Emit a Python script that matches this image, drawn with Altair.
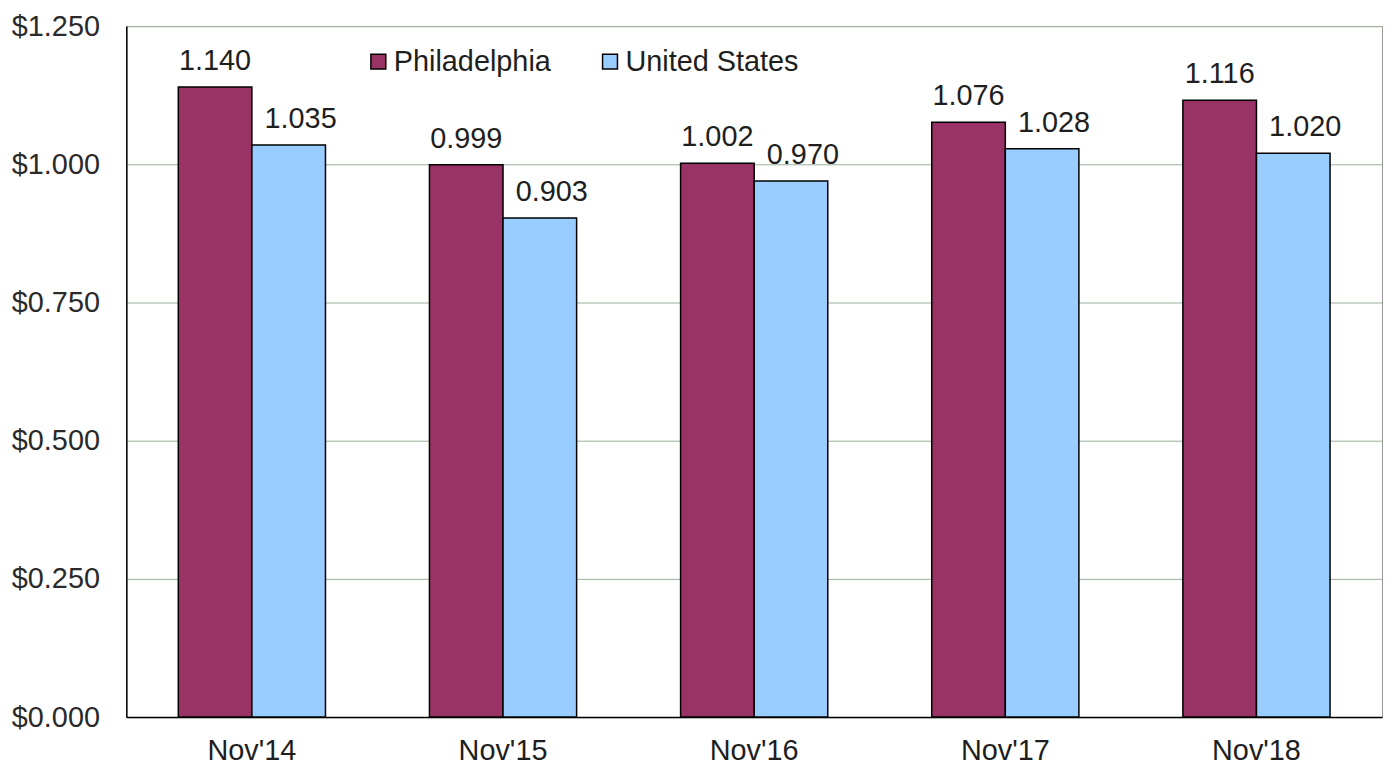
import altair as alt
import pandas as pd

categories = ["Nov'14", "Nov'15", "Nov'16", "Nov'17", "Nov'18"]
series = ["Philadelphia", "United States"]
philadelphia = [1.140, 0.999, 1.002, 1.076, 1.116]
united_states = [1.035, 0.903, 0.970, 1.028, 1.020]
y_ticks = [0, 0.25, 0.5, 0.75, 1.0, 1.25]

rows = []
for c, p, u in zip(categories, philadelphia, united_states):
    rows.append({"month": c, "area": series[0], "value": p, "label": f"{p:.3f}"})
    rows.append({"month": c, "area": series[1], "value": u, "label": f"{u:.3f}"})
df = pd.DataFrame(rows)

FONT = "Liberation Sans"
FS = 29
TXT = "#1e1e1e"

x = alt.X("month:N", sort=categories, title=None,
          scale=alt.Scale(paddingInner=0.414, paddingOuter=0.207),
          axis=alt.Axis(labelAngle=0, labelFontSize=FS, labelColor=TXT,
                        labelFont=FONT, ticks=False, labelPadding=20,
                        domainColor="#000000", domainWidth=1.5))
xoff = alt.XOffset("area:N", sort=series)
y = alt.Y("value:Q", title=None,
          scale=alt.Scale(domain=[0, 1.25], nice=False),
          axis=alt.Axis(values=y_ticks, format="$.3f", labelFontSize=FS,
                        labelColor="#2a2a2a", labelFont=FONT, ticks=False,
                        labelPadding=27, gridColor="#9aae9a", gridWidth=1,
                        domainColor="#000000", domainWidth=1.5))
color = alt.Color("area:N", sort=series,
                  scale=alt.Scale(domain=series, range=["#993366", "#99CCFF"]),
                  legend=alt.Legend(title=None, orient="none", legendX=239, legendY=21,
                                    direction="horizontal", symbolType="square",
                                    symbolSize=225, symbolStrokeColor="#000000",
                                    symbolStrokeWidth=1.5, labelFontSize=FS,
                                    labelFont=FONT, labelColor=TXT, labelLimit=400,
                                    columnPadding=44, labelOffset=1))

bars = alt.Chart(df).mark_bar(stroke="#000000", strokeWidth=1.5).encode(
    x=x, xOffset=xoff, y=y, color=color)

text_p = alt.Chart(df).transform_filter(alt.datum.area == series[0]).mark_text(
    baseline="bottom", dy=-11, fontSize=FS, font=FONT, color=TXT).encode(
    x=x, xOffset=xoff, y=y, text="label:N")
text_u = alt.Chart(df).transform_filter(alt.datum.area == series[1]).mark_text(
    baseline="bottom", dy=-11, dx=12, fontSize=FS, font=FONT, color=TXT).encode(
    x=x, xOffset=xoff, y=y, text="label:N")

chart = alt.layer(bars, text_p, text_u).properties(
    width=1263, height=695,
    autosize=alt.AutoSizeParams(type="none"),
    padding={"left": 119, "top": 16, "right": 5, "bottom": 49},
    background="#ffffff",
).configure_view(stroke="#999999", strokeWidth=1)

chart.save("out.html", embed_options={"renderer": "svg", "actions": False})
